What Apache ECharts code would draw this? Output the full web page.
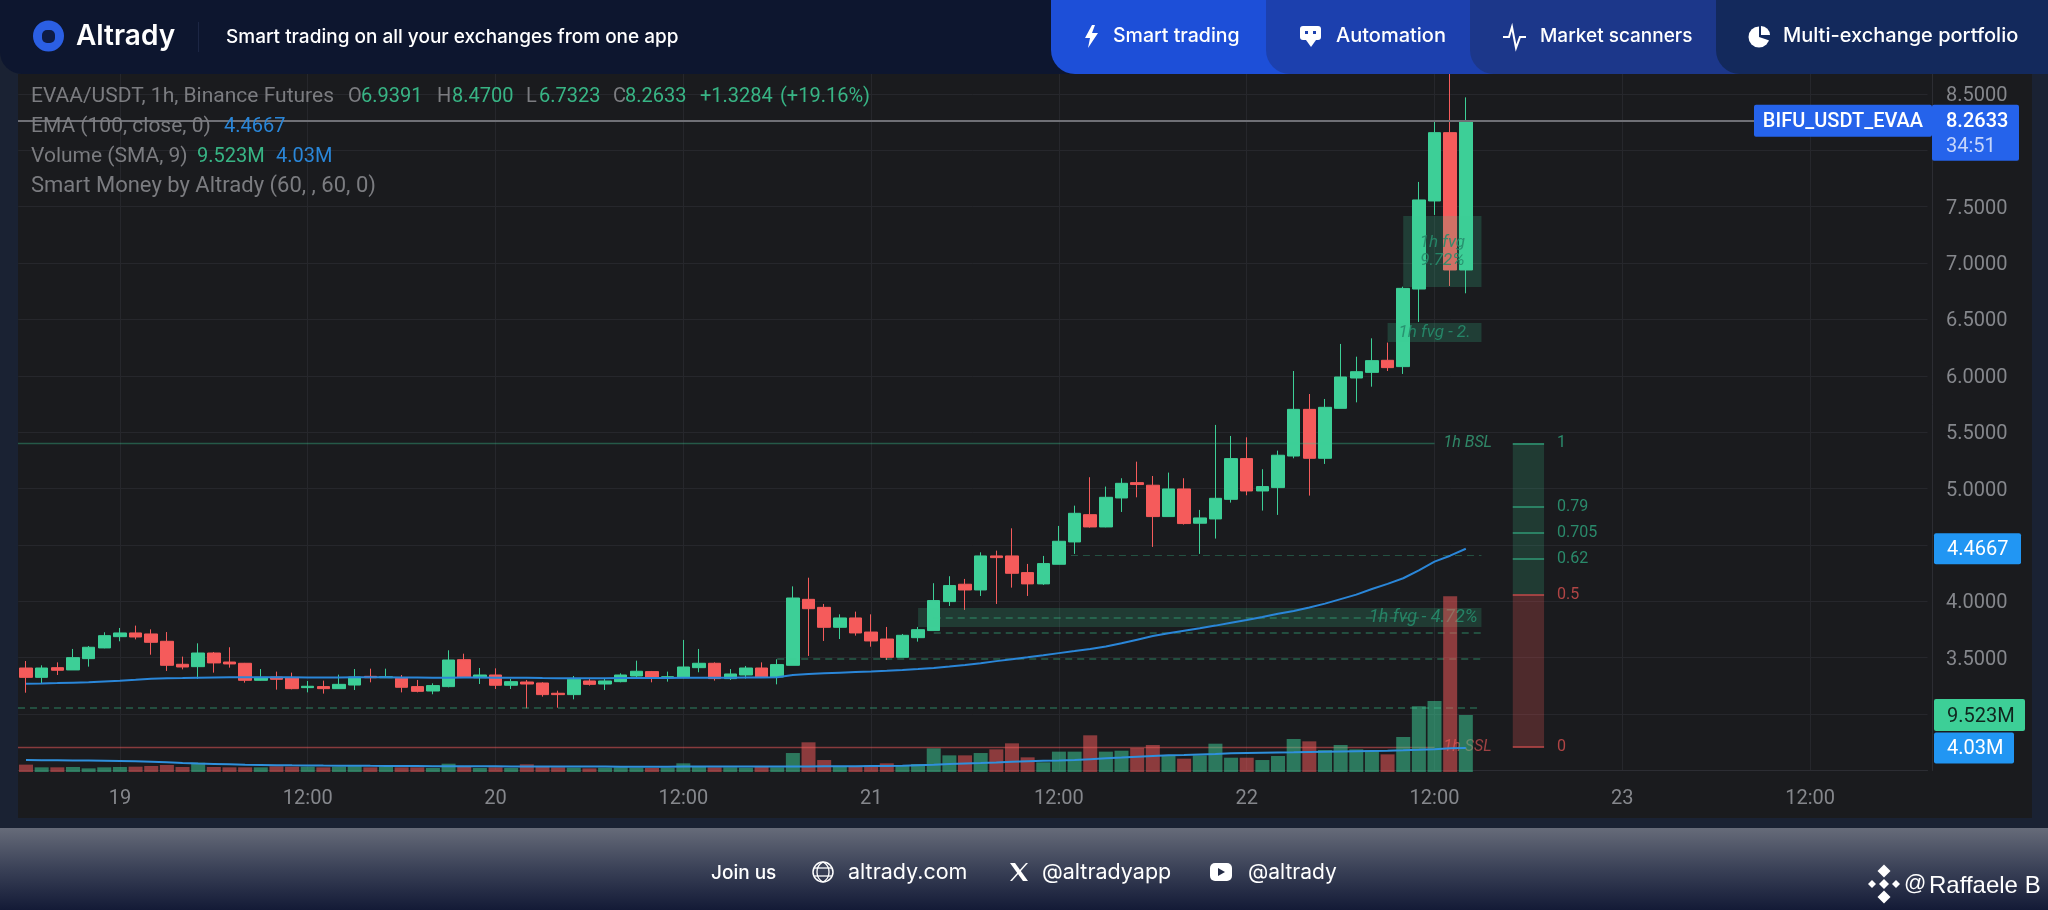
<!DOCTYPE html>
<html><head><meta charset="utf-8">
<style>html,body{margin:0;padding:0;background:#1a2233}#c{width:2048px;height:910px}</style>
<script src="https://cdn.jsdelivr.net/npm/echarts@6/dist/echarts.min.js"></script>
</head><body><div id="c"></div>
<script>
const opens=[3.409,3.326,3.412,3.392,3.492,3.587,3.687,3.720,3.711,3.646,3.442,3.421,3.542,3.462,3.451,3.300,3.329,3.321,3.235,3.244,3.226,3.258,3.335,3.323,3.318,3.244,3.205,3.244,3.483,3.323,3.347,3.256,3.285,3.276,3.185,3.173,3.294,3.267,3.288,3.338,3.377,3.321,3.323,3.412,3.451,3.315,3.347,3.409,3.329,3.433,4.018,3.947,3.770,3.853,3.728,3.666,3.504,3.678,3.741,3.998,4.152,4.101,4.403,4.403,4.255,4.155,4.329,4.527,4.769,4.660,4.917,5.053,5.030,4.752,4.997,4.693,4.731,4.905,5.266,4.979,5.009,5.289,5.703,5.269,5.712,5.981,6.031,6.138,6.082,6.770,7.551,8.157,6.9391];
const closes=[3.326,3.409,3.389,3.501,3.593,3.696,3.720,3.684,3.637,3.433,3.418,3.542,3.454,3.445,3.300,3.326,3.309,3.226,3.247,3.226,3.264,3.329,3.323,3.332,3.238,3.202,3.253,3.480,3.326,3.347,3.256,3.288,3.267,3.173,3.173,3.309,3.264,3.294,3.347,3.380,3.318,3.332,3.418,3.451,3.315,3.356,3.409,3.329,3.439,4.030,3.935,3.770,3.853,3.720,3.649,3.504,3.699,3.749,4.007,4.140,4.101,4.403,4.388,4.249,4.155,4.335,4.533,4.781,4.660,4.923,5.047,5.036,4.752,4.997,4.690,4.740,4.914,5.266,4.979,5.018,5.296,5.703,5.269,5.721,5.990,6.037,6.135,6.073,6.776,7.560,8.157,6.939,8.2633];
const lows=[3.190,3.273,3.347,3.392,3.421,3.584,3.646,3.663,3.527,3.383,3.397,3.312,3.368,3.412,3.279,3.297,3.217,3.220,3.193,3.182,3.226,3.214,3.282,3.321,3.193,3.193,3.176,3.238,3.326,3.267,3.223,3.223,3.052,3.155,3.057,3.131,3.253,3.214,3.282,3.318,3.282,3.288,3.318,3.371,3.297,3.303,3.315,3.323,3.264,3.433,3.516,3.649,3.666,3.696,3.598,3.480,3.504,3.643,3.741,3.959,3.924,4.048,3.977,4.122,4.048,4.146,4.329,4.421,4.654,4.657,4.793,4.923,4.483,4.752,4.681,4.421,4.557,4.876,4.941,4.805,4.767,5.269,4.938,5.219,5.712,5.765,5.904,6.043,6.017,6.478,7.427,6.797,6.7323];
const highs=[3.471,3.433,3.459,3.578,3.604,3.726,3.764,3.785,3.752,3.728,3.510,3.628,3.551,3.593,3.454,3.400,3.377,3.368,3.294,3.297,3.350,3.400,3.403,3.403,3.347,3.303,3.273,3.566,3.536,3.409,3.406,3.312,3.303,3.282,3.208,3.338,3.315,3.318,3.362,3.474,3.383,3.377,3.658,3.578,3.459,3.400,3.427,3.459,3.486,4.133,4.210,3.977,3.885,3.909,3.885,3.773,3.711,3.773,4.161,4.223,4.199,4.435,4.450,4.648,4.332,4.403,4.669,4.849,5.101,5.018,5.092,5.239,5.112,5.142,5.092,4.811,5.565,5.467,5.455,5.172,5.337,6.043,5.839,5.795,6.283,6.170,6.333,6.295,6.791,7.720,8.263,8.75,8.47];
const volumes=[1.23,.78,.78,.84,.61,.78,.84,.89,1.0,1.17,.84,1.56,.84,.78,.78,.78,.95,.89,.89,.78,.89,.95,.78,.89,.78,.78,.67,1.39,.84,.67,.78,.67,1.28,.89,.78,.72,.61,.72,.78,.72,.67,.72,1.45,.84,.78,.78,.72,.89,.78,3.17,4.96,2.0,.89,1.0,1.06,1.45,1.17,1.34,3.95,2.78,2.78,3.17,3.79,4.79,2.45,1.62,3.40,3.40,6.13,3.40,3.56,4.01,4.51,2.78,2.23,2.78,4.73,2.39,2.39,2.0,2.67,5.51,5.12,3.68,4.51,3.79,3.62,2.95,5.85,10.97,11.86,29.35,9.523];
const volumeSma=[2.00,1.98,1.96,1.94,1.92,1.88,1.83,1.78,1.70,1.61,1.50,1.40,1.34,1.28,1.22,1.18,1.14,1.11,1.09,1.07,1.06,1.05,1.03,1.02,1.00,.99,.98,.97,.96,.95,.95,.93,.92,.91,.91,.90,.90,.90,.89,.88,.88,.89,.90,.90,.91,.90,.90,.90,.90,.92,.93,.95,.96,.98,1.00,1.02,1.06,1.14,1.22,1.33,1.42,1.50,1.60,1.73,1.80,1.86,1.92,2.00,2.15,2.30,2.42,2.55,2.68,2.78,2.85,2.93,3.00,3.12,3.17,3.22,3.26,3.29,3.34,3.39,3.44,3.48,3.52,3.56,3.62,3.70,3.82,3.95,4.03];
const ema=[3.270,3.272,3.275,3.279,3.283,3.290,3.297,3.305,3.314,3.318,3.320,3.323,3.325,3.327,3.328,3.328,3.327,3.326,3.325,3.325,3.325,3.326,3.326,3.326,3.325,3.324,3.323,3.323,3.324,3.324,3.323,3.323,3.322,3.320,3.319,3.319,3.319,3.319,3.320,3.321,3.321,3.321,3.322,3.323,3.323,3.323,3.324,3.325,3.328,3.346,3.355,3.362,3.368,3.373,3.378,3.384,3.391,3.400,3.410,3.422,3.436,3.452,3.470,3.487,3.504,3.522,3.541,3.559,3.578,3.599,3.628,3.660,3.692,3.717,3.740,3.762,3.785,3.810,3.835,3.862,3.890,3.915,3.945,3.980,4.02,4.06,4.11,4.155,4.205,4.275,4.352,4.405,4.4667];
const priceTicksHidden=[2.5,3.0,4.5,8.0,9.0];
const lastPrice=8.2633, lastEma=4.4667, lastVol=9.523, lastSma=4.03;
const bsl=5.402, ssl=2.71;
const fibLevels=[1,0.79,0.705,0.62,0.5,0];
const categories=[];
for(let i=0;i<122;i++){const h=i+18;const d=18+Math.floor(h/24);const hh=h%24;categories.push(d+' '+String(hh).padStart(2,'0')+':00');}

const GREEN='#3dcf97',RED='#f55b5b',BLUE='#2a86d8';
const DASH={color:'rgba(61,207,151,.38)',type:[7,5],width:1.5};
const UI='Inter, Roboto, sans-serif', CH='Roboto, sans-serif';
const FVG='rgba(38,140,108,.9)';
const fibP=f=>ssl+f*(bsl-ssl);
const dline=(y,x0,x1)=>[{xAxis:x0,yAxis:y},{xAxis:x1,yAxis:y}];
const fibLines=fibLevels.map(f=>{const c=f>0.5?'#2f9a76':'#c24a4a';
  return [{xAxis:95,yAxis:fibP(f),lineStyle:{color:c,width:1.5,type:'solid'},
    label:{show:true,position:'end',distance:13,formatter:String(f),color:f>0.5?'#2a8a6b':'#b04545',fontFamily:CH,fontSize:16}},
    {xAxis:97,yAxis:fibP(f)}];});

const chart=echarts.init(document.getElementById('c'),null,{width:2048,height:910});
function T(x,y,text,fill,size,extra){return {type:'text',x,y,z:110,style:Object.assign({text,fill,fontSize:size,fontFamily:UI,verticalAlign:'middle',align:'left'},extra||{})};}
function PG(pts,fill,z){return {type:'polygon',z:z||110,shape:{points:pts},style:{fill}};}
function R(x,y,w,h,fill,r,z){return {type:'rect',z:z||100,shape:{x,y,width:w,height:h,r:r||0},style:{fill}};}
function D(cx,cy,r,fill){return PG([[cx,cy-r],[cx+r,cy],[cx,cy+r],[cx-r,cy]],fill);}
const W='#ffffff', G='#7b7c80', VAL={fontFamily:CH,opacity:.85}, LG={fontFamily:CH};
const chrome=[
 R(0,0,2048,910,'#1a2233',0,-20),
 R(18,74,2014,744,'#1a1b1e',0,-10),
 R(0,0,2048,74,'#0d162f',[0,0,0,22],100),
 R(1051,0,300,74,'#1d4fd8',[0,0,0,24],101),
 R(1266,0,300,74,'#1c40ae',[0,0,0,24],102),
 R(1470,0,300,74,'#1c378a',[0,0,0,24],103),
 R(1716,0,332,74,'#13295c',[0,0,0,24],104),
 {type:'circle',z:110,shape:{cx:48.5,cy:36,r:15.5},style:{fill:'#2b5fe3'}},
 {type:'rect',z:111,shape:{x:42,y:30,width:13,height:13,r:5},style:{fill:'#0e1c44'}},
 T(76,37,'Altrady',W,28,{fontWeight:600}),
 R(198,22,1,30,'#1c2644',0,105),
 T(226,37,'Smart trading on all your exchanges from one app',W,19,{fontWeight:500}),
 PG([[1092,25],[1085,38],[1090,38],[1088,48],[1098,33],[1092,33],[1095,25]],W),
 T(1113,36,'Smart trading',W,19.5,{fontWeight:500}),
 R(1300,26,21,14,W,3,110),
 PG([[1306,40],[1316,40],[1311,47]],W),
 R(1305,31,3,3,'#1c40ae',0,111),R(1313,31,3,3,'#1c40ae',0,111),
 T(1336,36,'Automation',W,20,{fontWeight:500}),
 {type:'polyline',z:110,shape:{points:[[1503,37],[1509,37],[1512,27],[1516,48],[1520,37],[1526,37]]},style:{stroke:W,lineWidth:2,fill:null}},
 T(1540,36,'Market scanners',W,19,{fontWeight:500}),
 {type:'circle',z:110,shape:{cx:1759,cy:37,r:10.5},style:{fill:W}},
 {type:'sector',z:111,shape:{cx:1759,cy:37,r:11,r0:0,startAngle:-Math.PI/2,endAngle:Math.PI*0.1,clockwise:true},style:{fill:'#13295c'}},
 {type:'sector',z:112,shape:{cx:1761,cy:35,r:9,r0:0,startAngle:-Math.PI/2,endAngle:0,clockwise:true},style:{fill:W}},
 T(1783,36,'Multi-exchange portfolio',W,20,{fontWeight:500}),
 // legend
 T(31,96.5,'EVAA/USDT, 1h, Binance Futures',G,21,LG),
 T(348,96.5,'O',G,20,LG),T(361,96.5,'6.9391',GREEN,20,VAL),
 T(437,96.5,'H',G,20,LG),T(452,96.5,'8.4700',GREEN,20,VAL),
 T(526,96.5,'L',G,20,LG),T(539,96.5,'6.7323',GREEN,20,VAL),
 T(613,96.5,'C',G,20,LG),T(625,96.5,'8.2633',GREEN,20,VAL),
 T(700,96.5,'+1.3284',GREEN,20,VAL),T(780,96.5,'(+19.16%)',GREEN,20,VAL),
 T(31,126.5,'EMA (100, close, 0)',G,21,LG),T(224,126.5,'4.4667','#2a86d8',20,LG),
 T(31,156.5,'Volume (SMA, 9)',G,21,LG),T(197,156.5,'9.523M',GREEN,20,VAL),T(276,156.5,'4.03M','#2a86d8',20,LG),
 T(31,186.5,'Smart Money by Altrady (60, , 60, 0)',G,22,LG),
 // footer
 {type:'rect',z:100,shape:{x:0,y:828,width:2048,height:82},style:{fill:new echarts.graphic.LinearGradient(0,0,0,1,[{offset:0,color:'#666b79'},{offset:.5,color:'#3a4157'},{offset:1,color:'#131a36'}])}},
 T(711,873,'Join us',W,19,{fontWeight:500}),
 {type:'circle',z:110,shape:{cx:823,cy:872,r:10},style:{stroke:W,lineWidth:1.5,fill:null}},
 {type:'bezierCurve',z:110,shape:{x1:823,y1:862,cpx1:815,cpy1:866,cpx2:815,cpy2:878,x2:823,y2:882},style:{stroke:W,lineWidth:1.3,fill:null}},
 {type:'bezierCurve',z:110,shape:{x1:823,y1:862,cpx1:831,cpy1:866,cpx2:831,cpy2:878,x2:823,y2:882},style:{stroke:W,lineWidth:1.3,fill:null}},
 {type:'line',z:110,shape:{x1:814,y1:868,x2:832,y2:868},style:{stroke:W,lineWidth:1.3}},
 {type:'line',z:110,shape:{x1:814,y1:876,x2:832,y2:876},style:{stroke:W,lineWidth:1.3}},
 T(848,873,'altrady.com',W,21.5),
 PG([[1010,863],[1015,863],[1028,881],[1023,881]],W),
 PG([[1026,863],[1028,863],[1012,881],[1010,881]],W),
 T(1042,873,'@altradyapp',W,21.5),
 R(1210,863,22,18,W,5,110),
 PG([[1218,868],[1218,876],[1225,872]],'#222a44',111),
 T(1248,873,'@altrady',W,21),
 D(1884,871,6.5,W),D(1884,897,6.5,W),D(1872,884,4,W),D(1896,884,4,W),D(1884,884,5,W),
 T(1904,884,'@',W,22,{fontFamily:'Liberation Sans, sans-serif'}),
 T(1929,886,'Raffaele B',W,24,{fontFamily:'Liberation Sans, sans-serif'})
];

chart.setOption({
 animation:false,backgroundColor:'transparent',
 grid:[{left:18.2,top:37.6,width:1909.3,height:732.9},{left:18.2,top:572,width:1909.3,height:200}],
 xAxis:[
  {type:'category',gridIndex:0,data:categories,
   axisLine:{show:true,lineStyle:{color:'#2c2d33'}},axisTick:{show:false,alignWithLabel:true},
   axisLabel:{interval:i=>(i+6)%12===0,color:'#85878c',fontFamily:CH,fontSize:20,margin:18,
     formatter:v=>{const p=v.split(' ');return p[1]==='00:00'?p[0]:p[1];}},
   splitLine:{show:true,alignWithLabel:true,interval:i=>(i+6)%12===0,lineStyle:{color:'#26272c'}}},
  {type:'category',gridIndex:1,data:categories,show:false}],
 yAxis:[
  {type:'value',gridIndex:0,min:2.5,max:9,interval:.5,position:'right',offset:4.5,
   axisLine:{show:true,lineStyle:{color:'#2c2d33'}},axisTick:{show:false},
   axisLabel:{color:'#85878c',fontFamily:CH,fontSize:20,margin:14,verticalAlign:'top',lineHeight:4,
     formatter:v=>priceTicksHidden.includes(+v)?'':(+v).toFixed(4)},
   splitLine:{show:true,lineStyle:{color:'#26272c'}}},
  {type:'value',gridIndex:1,min:0,max:33.42,show:false}],
 series:[
  {name:'EVAA/USDT',type:'candlestick',xAxisIndex:0,yAxisIndex:0,z:2,barWidth:13,
   data:opens.map((o,i)=>[o,closes[i],lows[i],highs[i]]),
   itemStyle:{color:GREEN,color0:RED,borderColor:GREEN,borderColor0:RED,borderWidth:1}},
  {name:'Smart Money',type:'line',xAxisIndex:0,yAxisIndex:0,z:3,data:[],silent:true,
   markArea:{silent:true,z:3,data:[
     [{xAxis:88,yAxis:7.418,itemStyle:{color:'rgba(61,207,151,.2)'},label:{show:true,position:'inside',formatter:'1h fvg\n9.72%',color:FVG,fontFamily:CH,fontStyle:'italic',fontSize:17,lineHeight:18}},{xAxis:93,yAxis:6.788}],
     [{xAxis:87,yAxis:6.469,itemStyle:{color:'rgba(61,207,151,.2)'},label:{show:true,position:'inside',formatter:'1h fvg - 2.',color:FVG,fontFamily:CH,fontStyle:'italic',fontSize:17}},{xAxis:93,yAxis:6.30}],
     [{xAxis:57,yAxis:3.941,itemStyle:{color:'rgba(61,207,151,.18)'},label:{show:true,position:'insideRight',distance:4,formatter:'1h fvg - 4.72%',color:FVG,fontFamily:CH,fontStyle:'italic',fontSize:18}},{xAxis:93,yAxis:3.773}],
     [{xAxis:95,yAxis:bsl,itemStyle:{color:'rgba(61,207,151,.18)'}},{xAxis:97,yAxis:fibP(.5)}],
     [{xAxis:95,yAxis:fibP(.5),itemStyle:{color:'rgba(245,91,91,.24)'}},{xAxis:97,yAxis:ssl}]
   ]},
   markLine:{silent:true,z:3,symbol:'none',label:{show:false},lineStyle:DASH,data:[
     [{yAxis:lastPrice,x:18,lineStyle:{color:'#6f7076',width:2,type:'solid'}},{x:1760,yAxis:lastPrice}],
     [{x:18,yAxis:bsl,lineStyle:{color:'rgba(61,207,151,.35)',width:1.3,type:'solid'},label:{show:true,position:'end',distance:9,formatter:'1h BSL',color:'rgba(61,207,151,.6)',fontFamily:CH,fontStyle:'italic',fontSize:16}},{xAxis:90,yAxis:bsl}],
     [{x:18,yAxis:ssl,lineStyle:{color:'rgba(245,91,91,.5)',width:1.3,type:'solid'},label:{show:true,position:'end',distance:9,formatter:'1h SSL',color:'rgba(245,91,91,.6)',fontFamily:CH,fontStyle:'italic',fontSize:16}},{xAxis:90,yAxis:ssl}],
     [{x:18,yAxis:3.055},{xAxis:93,yAxis:3.055}],
     dline(3.489,48,93),dline(3.722,58,93),dline(3.857,58,89),
     [{xAxis:66,yAxis:4.405,lineStyle:{color:'rgba(61,207,151,.3)',type:[7,5],width:1}},{xAxis:93,yAxis:4.405}],
     ...fibLines
   ]}},
  {name:'Volume',type:'bar',xAxisIndex:1,yAxisIndex:1,z:4,barWidth:14,
   data:volumes.map((v,i)=>({value:v,itemStyle:{color:closes[i]>=opens[i]?'rgba(61,207,151,.52)':'rgba(245,91,91,.52)'}}))},
  {name:'EMA 100',type:'line',xAxisIndex:0,yAxisIndex:0,z:5,data:ema,symbol:'none',lineStyle:{color:BLUE,width:2}},
  {name:'Volume SMA 9',type:'line',xAxisIndex:1,yAxisIndex:1,z:6,data:volumeSma,symbol:'none',lineStyle:{color:'#2f90dc',width:2}}
 ],
 graphic:chrome
});
const yP=v=>chart.convertToPixel({yAxisIndex:0},v), yV=v=>chart.convertToPixel({yAxisIndex:1},v);
function tag(x,y,w,h,bg,txt,col){return [R(x,y-h/2,w,h,bg,2,106),T(x+13,y+1.5,txt,col,20,{fontFamily:CH})];}
const py=yP(lastPrice);
const tags=[
 R(1754,py-16,178,32,'#2563eb',2,106),
 T(1843,py+1,'BIFU_USDT_EVAA',W,20,{fontFamily:CH,align:'center',fontWeight:500}),
 R(1932,py-16,87,56,'#2563eb',2,106),
 T(1946,py+1,lastPrice.toFixed(4),W,20,{fontFamily:CH,fontWeight:500}),
 T(1946,py+26,'34:51','#c6d6fb',20,{fontFamily:CH}),
 ...tag(1934,yP(lastEma),87,31,'#2196f3',lastEma.toFixed(4),W),
 ...tag(1934,yV(lastVol),91,32,'#3dcf97',lastVol+'M','#10261e'),
 ...tag(1934,yV(lastSma),80,31,'#2196f3',lastSma+'M',W)
];
chart.setOption({graphic:chrome.concat(tags)});
</script></body></html>
